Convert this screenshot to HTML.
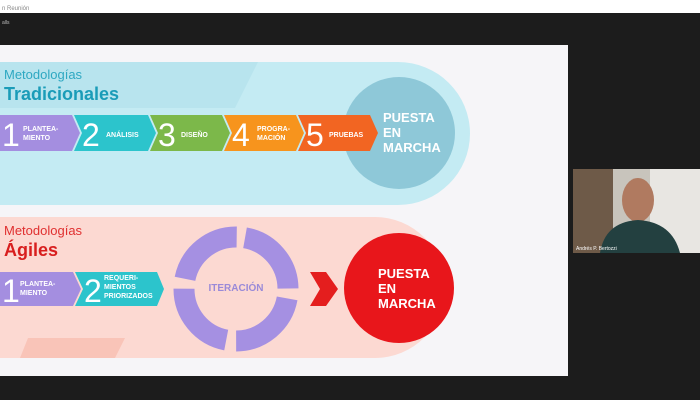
<!DOCTYPE html><html><head><style>
html,body{margin:0;width:700px;height:400px;overflow:hidden;background:#1c1c1c;font-family:"Liberation Sans",sans-serif}
svg{display:block}
</style></head><body>
<svg width="700" height="400" xmlns="http://www.w3.org/2000/svg" font-family="Liberation Sans, sans-serif">
<rect x="0" y="0" width="700" height="13" fill="#fff"/>
<text x="2" y="10" font-size="6" fill="#888">n Reunión</text>
<text x="2" y="24" font-size="5" fill="#bbb">alls</text>
<rect x="0" y="45" width="568" height="331" fill="#f6f5f8"/>
<!-- top band -->
<path d="M0 62 H398 A72 71.5 0 0 1 398 205 H0Z" fill="#c4ebf3"/>
<path d="M0 62 H258 L235 108 H0Z" fill="#b8e4ee"/>
<text x="4" y="79" font-size="13" fill="#2ea8c2">Metodologías</text>
<text x="4" y="100" font-size="18" font-weight="bold" fill="#1a9cb8">Tradicionales</text>
<circle cx="399" cy="133" r="56" fill="#8ec8d8"/>
<g font-weight="bold" fill="#fff">
<path d="M0 115 H72 L80 133 L72 151 H0Z" fill="#a48ee0"/>
<path d="M74 115 H148 L156 133 L148 151 H74 L82 133Z" fill="#2cc4cc"/>
<path d="M150 115 H222 L230 133 L222 151 H150 L158 133Z" fill="#7cb84a"/>
<path d="M224 115 H296 L304 133 L296 151 H224 L232 133Z" fill="#f7941d"/>
<path d="M298 115 H370 L378 133 L370 151 H298 L306 133Z" fill="#f26522"/>
<g font-weight="normal" font-size="32"><text x="2" y="146">1</text><text x="82" y="146">2</text><text x="158" y="146">3</text><text x="232" y="146">4</text><text x="306" y="146">5</text></g>
<g font-size="7"><text x="23" y="131">PLANTEA-</text><text x="23" y="140">MIENTO</text>
<text x="106" y="137">ANÁLISIS</text><text x="181" y="137">DISEÑO</text>
<text x="257" y="131">PROGRA-</text><text x="257" y="140">MACIÓN</text>
<text x="329" y="137">PRUEBAS</text></g>
<g font-size="13"><text x="383" y="122">PUESTA</text><text x="383" y="137">EN</text><text x="383" y="152">MARCHA</text></g>
</g>
<!-- bottom band -->
<path d="M0 217 H375 A70 70.5 0 0 1 375 358 H0Z" fill="#fcd9d2"/>
<path d="M28 338 H125 L115 358 H20Z" fill="#f9c4b8"/>
<text x="4" y="235" font-size="13" fill="#e03030">Metodologías</text>
<text x="4" y="256" font-size="18" font-weight="bold" fill="#d81e1e">Ágiles</text>
<path d="M0 272 H73 L81 289 L73 306 H0Z" fill="#a48ee0"/>
<path d="M75 272 H157 L164 289 L157 306 H75 L83 289Z" fill="#2cc4cc"/>
<g fill="#fff" font-weight="bold"><text x="2" y="302" font-size="32" font-weight="normal">1</text><text x="84" y="302" font-size="32" font-weight="normal">2</text>
<g font-size="7"><text x="20" y="286">PLANTEA-</text><text x="20" y="295">MIENTO</text>
<text x="104" y="280">REQUERI-</text><text x="104" y="289">MIENTOS</text><text x="104" y="298">PRIORIZADOS</text></g></g>
<circle cx="236" cy="289" r="52" fill="none" stroke="#a590e2" stroke-width="21" stroke-dasharray="72 10" transform="rotate(-80 236 289)"/>
<text x="236" y="291" font-size="10" font-weight="bold" fill="#9a8ad8" text-anchor="middle">ITERACIÓN</text>
<path d="M310 272 H326 L338 289 L326 306 H310 L320 289Z" fill="#e41e1e"/>
<circle cx="399" cy="288" r="55" fill="#e8161b"/>
<g fill="#fff" font-size="13" font-weight="bold"><text x="378" y="278">PUESTA</text><text x="378" y="293">EN</text><text x="378" y="308">MARCHA</text></g>
<!-- webcam -->
<rect x="573" y="169" width="127" height="84" fill="#c8c4bc"/>
<rect x="573" y="169" width="40" height="84" fill="#6e5a48"/>
<rect x="650" y="169" width="50" height="84" fill="#e8e6e2"/>
<ellipse cx="638" cy="200" rx="16" ry="22" fill="#b07a60"/>
<path d="M600 253 Q605 222 638 220 Q672 222 680 253Z" fill="#234040"/>
<text x="576" y="250" font-size="5" fill="#fff">Andrés P. Bertozzi</text>
</svg>
</body></html>
